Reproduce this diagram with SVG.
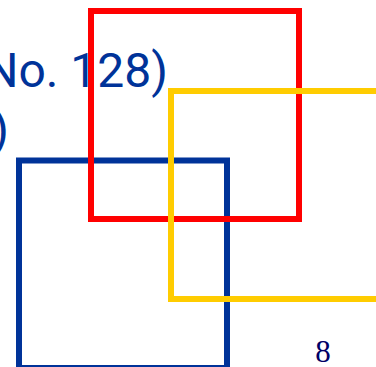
<svg xmlns="http://www.w3.org/2000/svg" width="376" height="367" viewBox="0 0 376 367">
<style>
.t{font-family:Roboto,"Liberation Sans",sans-serif;font-size:48px;fill:#003399}
.sq{fill:none;stroke-width:6}
.n{font-family:"Liberation Serif","Times New Roman",serif;font-size:31px;fill:#000066}
</style>
<rect width="376" height="367" fill="#fff"/>
<g id="caption">
<text class="t" x="168" y="87" text-anchor="end">No. 128)</text>
<text class="t" x="9" y="146" text-anchor="end">)</text>
</g>
<g id="blue"><rect class="sq" x="19" y="160.5" width="208" height="207.5" stroke="#003399"/></g>
<g id="red"><rect class="sq" x="91" y="11" width="208" height="208" stroke="#FF0000"/></g>
<g id="yellow"><rect class="sq" x="171" y="91" width="210" height="208" stroke="#FFCC00"/></g>
<g id="page"><text class="n" x="323" y="362" text-anchor="middle">8</text></g>
</svg>
